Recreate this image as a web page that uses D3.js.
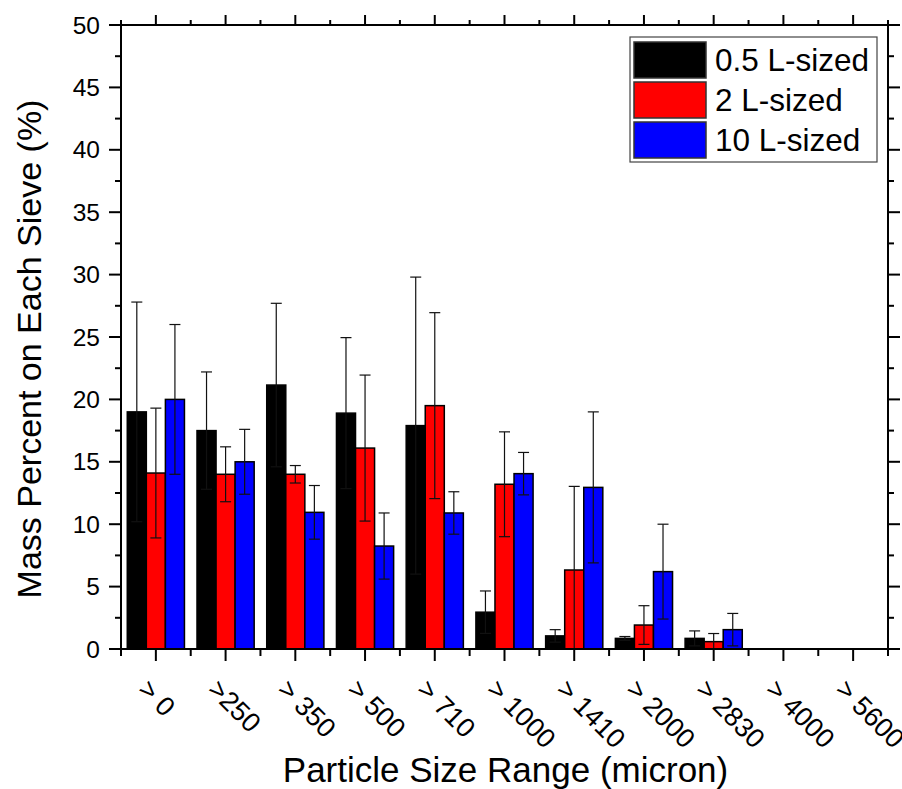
<!DOCTYPE html>
<html><head><meta charset="utf-8">
<script src="https://cdn.jsdelivr.net/npm/d3@7"></script>
<style>body{margin:0;background:#fff}svg{display:block}text{font-family:"Liberation Sans",Arial,sans-serif;fill:#000}</style>
</head><body><svg id="c" width="902" height="789"></svg>
<script>
const categories = ["> 0", ">250", "> 350", "> 500", "> 710", "> 1000", "> 1410", "> 2000", "> 2830", "> 4000", "> 5600"];
const seriesNames = ["0.5 L-sized", "2 L-sized", "10 L-sized"];
const colors = ["#000000", "#ff0000", "#0000ff"];
const vals05 = [19.0, 17.5, 21.15, 18.9, 17.9, 2.95, 1.05, 0.85, 0.85, 0, 0];
const err05  = [8.8, 4.7, 6.55, 6.05, 11.9, 1.7, 0.5, 0.15, 0.6, 0, 0];
const vals2  = [14.1, 14.0, 14.0, 16.1, 19.5, 13.2, 6.33, 1.92, 0.59, 0, 0];
const err2   = [5.2, 2.2, 0.7, 5.85, 7.45, 4.2, 6.7, 1.55, 0.65, 0, 0];
const vals10 = [20.0, 15.0, 10.95, 8.25, 10.9, 14.05, 12.95, 6.2, 1.55, 0, 0];
const err10  = [6.0, 2.6, 2.15, 2.65, 1.7, 1.7, 6.05, 3.8, 1.3, 0, 0];
const yTicks = [0, 5, 10, 15, 20, 25, 30, 35, 40, 45, 50];

const values = [vals05, vals2, vals10];
const errors = [err05, err2, err10];

const svg = d3.select("#c");
const L = 121, R = 888, T = 25, B = 649;
const x = d3.scaleBand().domain(categories).range([L, R]).paddingInner(0.18).paddingOuter(0.09);
const xs = d3.scaleBand().domain(seriesNames).range([0, x.bandwidth()]);
const y = d3.scaleLinear().domain([0, 50]).range([B, T]);

// bars
const g = svg.append("g");
seriesNames.forEach((s, si) => {
  g.selectAll(null).data(categories).enter().append("rect")
    .attr("x", c => x(c) + xs(s))
    .attr("width", xs.bandwidth())
    .attr("y", (c, i) => y(values[si][i]))
    .attr("height", (c, i) => y(0) - y(values[si][i]))
    .attr("fill", colors[si])
    .attr("stroke", "#000").attr("stroke-width", 1.5);
});
// error bars
seriesNames.forEach((s, si) => {
  categories.forEach((c, i) => {
    const v = values[si][i], e = errors[si][i];
    if (e <= 0) return;
    const cx = x(c) + xs(s) + xs.bandwidth() / 2;
    const hi = v + e, lo = Math.max(0, v - e);
    const eg = g.append("g").attr("stroke", "#111").attr("stroke-width", 1.2);
    eg.append("line").attr("x1", cx).attr("x2", cx).attr("y1", y(hi)).attr("y2", y(lo));
    eg.append("line").attr("x1", cx - 5.5).attr("x2", cx + 5.5).attr("y1", y(hi)).attr("y2", y(hi));
    if (v - e > 0) eg.append("line").attr("x1", cx - 5.5).attr("x2", cx + 5.5).attr("y1", y(lo)).attr("y2", y(lo));
  });
});

// axes
const step = x.step();
const boundaries = d3.range(categories.length + 1).map(i => L + i * step);
const centers = categories.map(c => x(c) + x.bandwidth() / 2);
const minorY = d3.range(2.5, 50, 5);
const ax = svg.append("g").attr("stroke", "#000").attr("stroke-width", 2);
ax.append("rect").attr("x", L).attr("y", T).attr("width", R - L).attr("height", B - T).attr("fill", "none");
centers.forEach(cx => {
  ax.append("line").attr("x1", cx).attr("x2", cx).attr("y1", B).attr("y2", B + 12);
  ax.append("line").attr("x1", cx).attr("x2", cx).attr("y1", T).attr("y2", T - 10);
});
boundaries.forEach(bx => {
  ax.append("line").attr("x1", bx).attr("x2", bx).attr("y1", B).attr("y2", B + 7);
  ax.append("line").attr("x1", bx).attr("x2", bx).attr("y1", T).attr("y2", T - 5);
});
yTicks.forEach(t => {
  ax.append("line").attr("x1", L - 12).attr("x2", L).attr("y1", y(t)).attr("y2", y(t));
  ax.append("line").attr("x1", R).attr("x2", R + 12).attr("y1", y(t)).attr("y2", y(t));
});
minorY.forEach(t => {
  ax.append("line").attr("x1", L - 6).attr("x2", L).attr("y1", y(t)).attr("y2", y(t));
  ax.append("line").attr("x1", R).attr("x2", R + 6).attr("y1", y(t)).attr("y2", y(t));
});
// y tick labels
svg.append("g").selectAll("text").data(yTicks).enter().append("text")
  .attr("x", L - 21).attr("y", t => y(t)).attr("dy", "0.35em")
  .attr("text-anchor", "end").attr("font-size", 24.5).text(t => t);
// x tick labels
svg.append("g").selectAll("text").data(categories).enter().append("text")
  .attr("transform", (c, i) => `translate(${centers[i] - 19},${B + 42}) rotate(45)`)
  .attr("font-size", 27).text(c => c);
// titles
svg.append("text").attr("x", (L + R) / 2 + 1).attr("y", 782).attr("text-anchor", "middle")
  .attr("font-size", 35).text("Particle Size Range (micron)");
svg.append("text").attr("transform", `translate(41,${(T + B) / 2 + 12}) rotate(-90)`)
  .attr("text-anchor", "middle").attr("font-size", 34).text("Mass Percent on Each Sieve (%)");

// legend
const lg = svg.append("g");
lg.append("rect").attr("x", 630).attr("y", 37).attr("width", 247).attr("height", 125)
  .attr("fill", "#fff").attr("stroke", "#444").attr("stroke-width", 1.2);
seriesNames.forEach((s, i) => {
  const ry = 42 + i * 40;
  lg.append("rect").attr("x", 634).attr("y", ry).attr("width", 72).attr("height", 36)
    .attr("fill", colors[i]).attr("stroke", "#333").attr("stroke-width", 1.5);
  lg.append("text").attr("x", 715).attr("y", ry + 18).attr("dy", "0.36em")
    .attr("font-size", 31.5).text(s);
});
</script></body></html>
